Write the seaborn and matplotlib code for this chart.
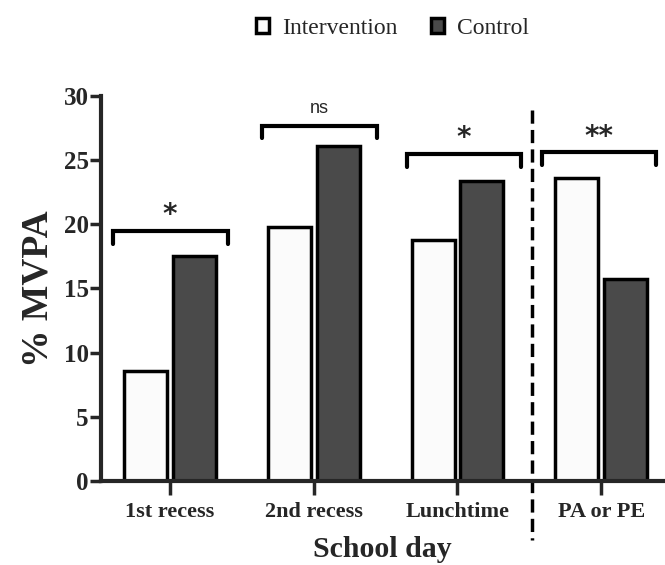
import numpy as np
import pandas as pd
import matplotlib
matplotlib.use("Agg")
import matplotlib.pyplot as plt
import seaborn as sns
from matplotlib.patches import Patch

# ====== data ======
periods = ["1st recess", "2nd recess", "Lunchtime", "PA or PE"]
groups = ["Intervention", "Control"]
intervention = [8.6, 19.8, 18.8, 23.6]
control = [17.5, 26.1, 23.4, 15.7]

# significance brackets, offsets relative to each group centre
brk_left = [-0.40, -0.36, -0.35, -0.41]
brk_right = [0.40, 0.44, 0.44, 0.38]
brk_y = [19.5, 27.7, 25.5, 25.6]
brk_label = ["*", "ns", "*", "**"]

df = pd.DataFrame({
    "period": periods * 2,
    "group": [groups[0]] * 4 + [groups[1]] * 4,
    "mvpa": intervention + control,
})

sns.set_style("ticks")
serif = ["Liberation Serif", "DejaVu Serif"]
colors = {"Intervention": "#fbfbfb", "Control": "#4a4a4a"}

fig = plt.figure(figsize=(6.65, 5.65), dpi=100)
ax = fig.add_axes([0.152, 0.149, 0.845, 0.681])

sns.barplot(data=df, x="period", y="mvpa", hue="group", order=periods,
            hue_order=groups, palette=colors, width=0.68, gap=0.12,
            edgecolor="black", linewidth=2.5, legend=False, ax=ax)

ax.set_ylim(0, 30)
ax.set_xlim(-0.48, 3.43)
ax.set_yticks(range(0, 31, 5))
sns.despine(ax=ax)
for s in ["left", "bottom"]:
    ax.spines[s].set_linewidth(3)
ax.tick_params(axis="y", length=8, width=2.5, pad=1)
ax.tick_params(axis="x", length=10, width=2.5, pad=5)
for lab in ax.get_yticklabels():
    lab.set_fontfamily(serif)
    lab.set_fontweight("bold")
    lab.set_fontsize(18)
for lab in ax.get_xticklabels():
    lab.set_fontfamily(serif)
    lab.set_fontweight("bold")
    lab.set_fontsize(16)

ax.set_ylabel("% MVPA", fontfamily=serif, fontweight="bold", fontsize=27, labelpad=6)
ax.set_xlabel("School day", fontfamily=serif, fontweight="bold", fontsize=21.5, labelpad=10)

# brackets
for i, (xl, xr, y, t) in enumerate(zip(brk_left, brk_right, brk_y, brk_label)):
    ax.plot([i + xl, i + xl, i + xr, i + xr], [y - 1.0, y, y, y - 1.0], color="black", lw=3,
            solid_joinstyle="miter", clip_on=False)
    if t == "ns":
        ax.text(i + (xl + xr) / 2, y + 0.7, t, ha="center", va="bottom",
                fontfamily="Liberation Sans", fontsize=13)
    else:
        ax.text(i + (xl + xr) / 2, y + 0.1, t, ha="center", va="bottom",
                fontfamily="DejaVu Sans", fontweight="bold", fontsize=20)

# dashed separator, drawn top-down so the pattern starts with a dash
ax.plot([2.52, 2.52], [28.9, -4.6], color="black", lw=2.5, ls=(0, (3.8, 1.8)), clip_on=False)

handles = [Patch(facecolor=colors[g], edgecolor="black", linewidth=2.5, label=g) for g in groups]
fig.legend(handles=handles, loc="upper center", bbox_to_anchor=(0.59, 1.006), ncol=2,
           frameon=False, handlelength=0.55, handleheight=0.55, handletextpad=0.55,
           columnspacing=1.4, prop={"family": serif, "size": 17})

fig.savefig("out.png", dpi=100)
